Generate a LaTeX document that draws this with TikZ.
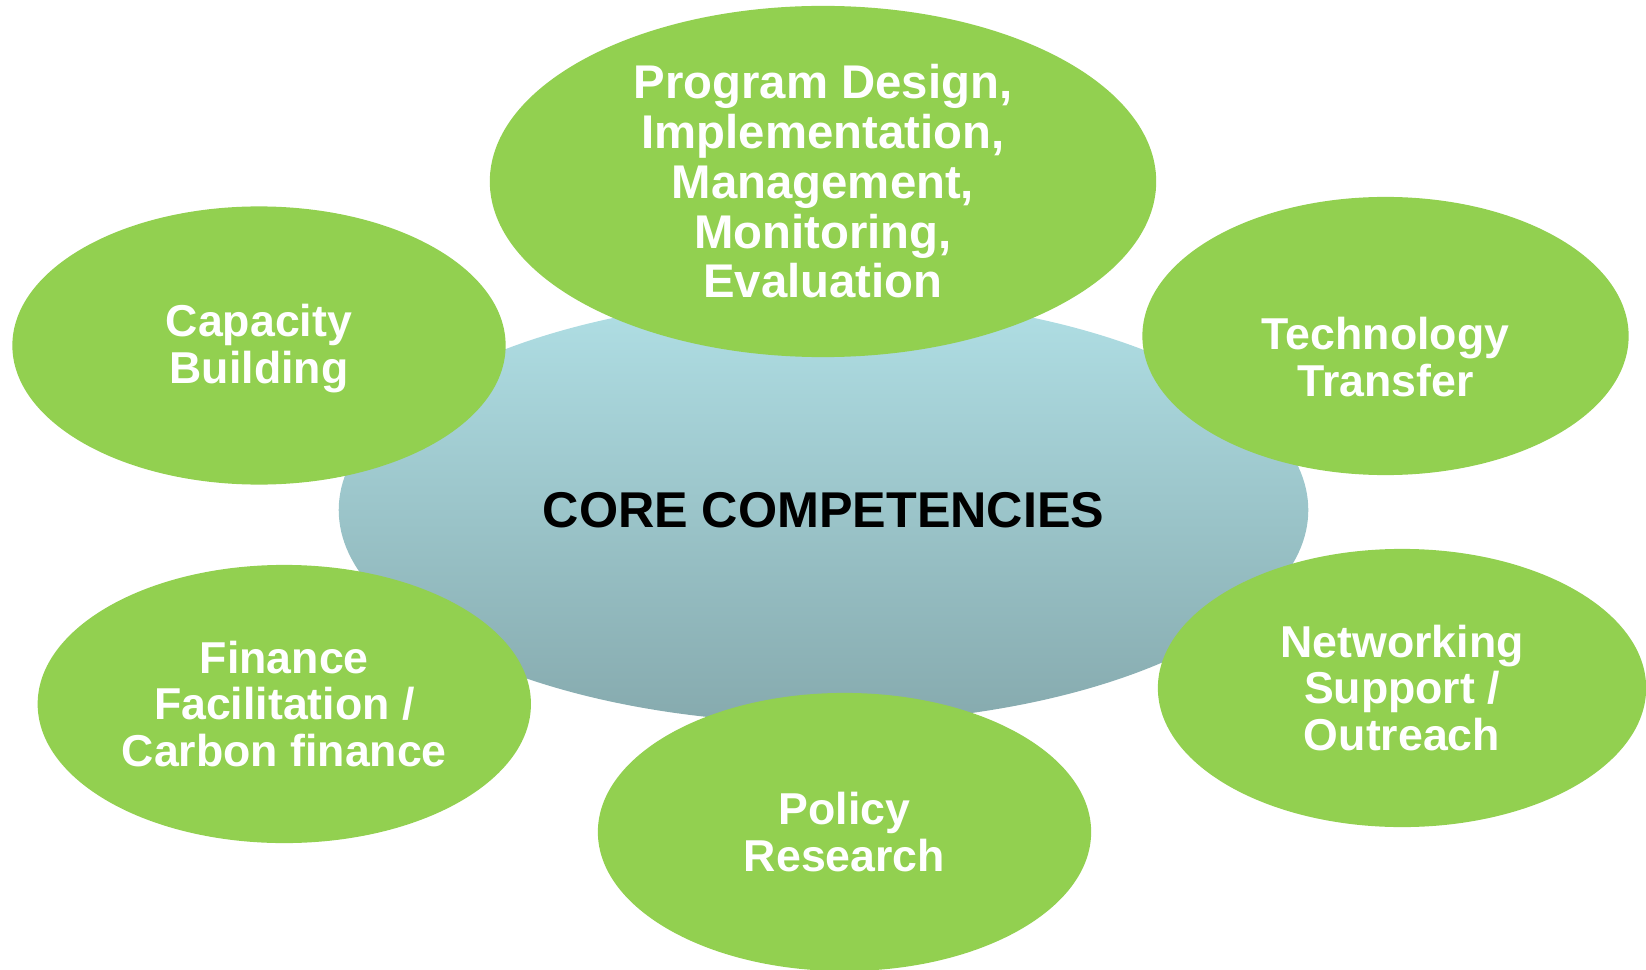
\documentclass[tikz,border=0pt]{standalone}
\usepackage{fontspec}
\setmainfont{Liberation Sans}
\usetikzlibrary{shapes.geometric}
\definecolor{leaf}{RGB}{146,208,80}
\definecolor{coretop}{RGB}{176,223,229}
\definecolor{corebot}{RGB}{134,170,174}

\begin{document}
\begin{tikzpicture}[x=0.01cm, y=0.01cm,
    words/.style={text=white, align=center, font=\fontsize{12.7}{13.3}\selectfont\bfseries},
    bubble/.style={ellipse, fill=leaf, inner sep=0pt, minimum width=4.93cm, minimum height=2.78cm, words},
    core/.style={ellipse, inner sep=0pt, top color=coretop, bottom color=corebot,
        font=\fontsize{14.3}{15}\selectfont\bfseries}]
    % Frame
    \useasboundingbox (0,0) rectangle (1646,969);

    % Centre
    \node[core, minimum width=9.69cm, minimum height=4.26cm] (core) at (823.5,459) {CORE COMPETENCIES};

    % Competencies
    \node[bubble, minimum width=6.66cm, minimum height=3.51cm,
        font=\fontsize{13.45}{14.15}\selectfont\bfseries] (design) at (823,787.5)
        {Program Design,\\Implementation,\\Management,\\Monitoring,\\Evaluation};
    \node[bubble] (capacity) at (259,623.5) {};
    \node[words] (capacitytext) at ([yshift=-0.03cm]capacity.center) {Capacity\\Building};
    \node[bubble, minimum width=4.86cm] (tech) at (1385.5,633) {};
    \node[words] (techtext) at ([yshift=-0.21cm]tech.center) {Technology\\Transfer};
    \node[bubble] (finance) at (284.3,265) {Finance\\Facilitation /\\Carbon finance};
    \node[bubble, minimum width=4.88cm] (network) at (1402,281) {Networking\\Support /\\Outreach};
    \node[bubble] (policy) at (844.5,137) {Policy\\Research};
\end{tikzpicture}
\end{document}
